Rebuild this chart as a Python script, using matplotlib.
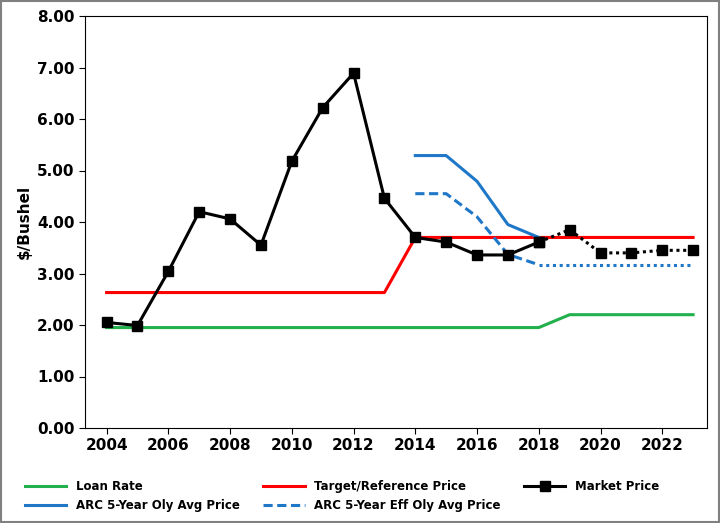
import matplotlib
matplotlib.use("Agg")
import matplotlib.pyplot as plt
from matplotlib.lines import Line2D

years = list(range(2004, 2024))
loan_rate = [1.95]*15 + [2.20]*5
target_price = [2.63]*10 + [3.70]*10
market_price = [2.05, 1.99, 3.04, 4.20, 4.06, 3.55, 5.18, 6.22, 6.89, 4.46,
                3.70, 3.61, 3.36, 3.36, 3.61, 3.85, 3.40, 3.40, 3.45, 3.45]
arc_years = [2014, 2015, 2016, 2017, 2018]
arc_oly = [5.29, 5.29, 4.79, 3.95, 3.70]
arc_eff = [4.55, 4.55, 4.10, 3.37, 3.17]
proj_years = [2018, 2019, 2020, 2021, 2022, 2023]
arc_eff_proj = [3.17]*6
xticks = list(range(2004, 2024, 2))

fig = plt.figure(figsize=(7.2, 5.23), dpi=100)
ax = fig.add_axes([85/720, 95/523, 622/720, 412/523])
ax.plot(years, loan_rate, color="#22b04c", lw=2.2)
ax.plot(years, target_price, color="#ff0000", lw=2.2)
ax.plot(arc_years, arc_oly, color="#1f77c8", lw=2.2)
ax.plot(arc_years, arc_eff, color="#1f77c8", lw=2.2, ls=(0, (3, 1.5)))
ax.plot(proj_years, arc_eff_proj, color="#1f77c8", lw=2.2, ls=(0, (1, 1.2)))
ax.plot(years[:15], market_price[:15], color="black", lw=2.2, marker="s", ms=6.5)
ax.plot(years[14:], market_price[14:], color="black", lw=2.2, ls=(0, (1, 1.2)), marker="s", ms=6.5)

ax.set_xlim(2003.3, 2023.45)
ax.set_ylim(0, 8)
ax.set_xticks(xticks)
ax.set_yticks([i for i in range(9)])
ax.set_yticklabels([f"{i:.2f}" for i in range(9)])
for lab in ax.get_xticklabels() + ax.get_yticklabels():
    lab.set_fontweight("bold"); lab.set_fontsize(11)
ax.set_ylabel("$/Bushel", fontsize=11, fontweight="bold")
ax.tick_params(direction="out", length=4)

h_loan = Line2D([], [], color="#22b04c", lw=2.2)
h_target = Line2D([], [], color="#ff0000", lw=2.2)
h_market = Line2D([], [], color="black", lw=2.2, marker="s", ms=6.5)
h_oly = Line2D([], [], color="#1f77c8", lw=2.2)
h_eff = Line2D([], [], color="#1f77c8", lw=2.2, ls=(0, (3, 1.5)))
h_blank = Line2D([], [], color="none")
handles = [h_loan, h_oly, h_target, h_eff, h_market, h_blank]
labels = ["Loan Rate", "ARC 5-Year Oly Avg Price", "Target/Reference Price",
          "ARC 5-Year Eff Oly Avg Price", "Market Price", ""]
fig.legend(handles, labels, loc="lower left", bbox_to_anchor=(0.02, 0.0), ncol=3,
           frameon=False, prop={"weight": "bold", "size": 8.5}, handlelength=3.5,
           columnspacing=2.0)
fig.patches.append(plt.Rectangle((0.002, 0.002), 0.996, 0.996, transform=fig.transFigure,
                                 fill=False, edgecolor="#808080", lw=1.5))
fig.savefig("out.png", dpi=100)
